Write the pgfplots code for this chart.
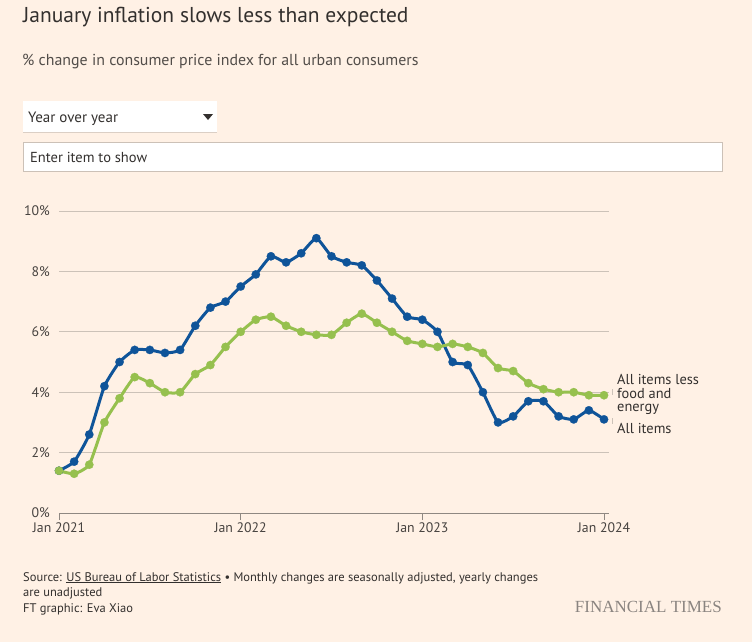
\documentclass[border=0pt]{standalone}
\usepackage{pgfplots}
\pgfplotsset{compat=1.18}
\usepackage{fontspec}
\setmainfont{PT Sans}
\newfontfamily\ftserif{Liberation Serif}
\definecolor{bg}{HTML}{FFF1E5}
\definecolor{txt}{HTML}{33302E}
\definecolor{ftblue}{HTML}{0F5499}
\definecolor{ftgreen}{HTML}{96C04E}
\definecolor{gridc}{HTML}{CCC2B8}
\definecolor{basec}{HTML}{8F8882}
\definecolor{boxline}{HTML}{CCC1B7}
\definecolor{ftgrey}{HTML}{8A8480}

\pgfplotstableread{
m all core
0 1.4 1.4
1 1.7 1.3
2 2.6 1.6
3 4.2 3.0
4 5.0 3.8
5 5.4 4.5
6 5.4 4.3
7 5.3 4.0
8 5.4 4.0
9 6.2 4.6
10 6.8 4.9
11 7.0 5.5
12 7.5 6.0
13 7.9 6.4
14 8.5 6.5
15 8.3 6.2
16 8.6 6.0
17 9.1 5.9
18 8.5 5.9
19 8.3 6.3
20 8.2 6.6
21 7.7 6.3
22 7.1 6.0
23 6.5 5.7
24 6.4 5.6
25 6.0 5.5
26 5.0 5.6
27 4.9 5.5
28 4.0 5.3
29 3.0 4.8
30 3.2 4.7
31 3.7 4.3
32 3.7 4.1
33 3.2 4.0
34 3.1 4.0
35 3.4 3.9
36 3.1 3.9
}\cpidata

\begin{document}
\begin{tikzpicture}[x=1pt,y=1pt]
\useasboundingbox (0,0) rectangle (752,-642);
\fill[bg] (0,0) rectangle (752,-642);
% titles
\node[anchor=base west, inner sep=0, text=txt, font=\fontsize{21.5}{24}\selectfont] at (23,-23) {January inflation slows less than expected};
\node[anchor=base west, inner sep=0, text=txt!85!bg, font=\fontsize{15.9}{18}\selectfont] at (22,-66) {\% change in consumer price index for all urban consumers};
% controls
\fill[white] (23,-101) rectangle (217,-132);
\draw[boxline!70!bg] (23,-132) -- (217,-132);
\node[anchor=base west, inner sep=0, text=txt, font=\fontsize{15}{17}\selectfont] at (28,-122) {Year over year};
\fill[txt] (203,-114) -- (213,-114) -- (208,-120) -- cycle;
\filldraw[fill=white, draw=boxline] (23,-142) rectangle (722,-171);
\node[anchor=base west, inner sep=0, text=txt, font=\fontsize{14.5}{17}\selectfont] at (30,-162) {Enter item to show};

\begin{axis}[
  at={(59pt,-513pt)}, anchor=south west,
  scale only axis, width=550pt, height=302pt,
  xmin=0, xmax=36.33, ymin=0, ymax=10,
  clip=false,
  axis line style={draw=none},
  xtick={0,12,24,36},
  xticklabels={Jan 2021,Jan 2022,Jan 2023,Jan 2024},
  xtick pos=bottom,
  ytick={2,4,6,8,10},
  extra y ticks={0},
  extra y tick style={ymajorgrids=false},
  yticklabel={\pgfmathprintnumber{\tick}\%},
  ymajorgrids,
  major grid style={draw=gridc, line width=0.9pt},
  tick align=outside,
  major tick length=7pt,
  xtick style={draw=basec, line width=0.9pt},
  ytick style={draw=none},
  /pgf/number format/assume math mode=true,
  ticklabel style={font=\fontsize{13.8}{15}\selectfont, text=txt!90!bg},
  yticklabel style={anchor=east, inner sep=0pt, xshift=-2pt},
  xticklabel style={inner sep=0pt, anchor=north, yshift=-2pt},
]
\draw[basec, line width=0.9pt] (axis cs:0,0) -- (axis cs:36.33,0);
\addplot[ftblue, line width=3pt, smooth, tension=0.3, line join=round, no marks] table[x=m, y=all] {\cpidata};
\addplot[ftblue, only marks, mark=*, mark size=4.2pt, mark options={fill=ftblue, draw=ftblue, line width=0.2pt}] table[x=m, y=all] {\cpidata};
\addplot[ftgreen, line width=3pt, smooth, tension=0.3, line join=round, no marks] table[x=m, y=core] {\cpidata};
\addplot[ftgreen, only marks, mark=*, mark size=4.2pt, mark options={fill=ftgreen, draw=ftgreen, line width=0.2pt}] table[x=m, y=core] {\cpidata};
\end{axis}

% end labels
\draw[gridc, line width=0.8pt] (612,-389) -- (612,-395);
\draw[gridc, line width=0.8pt] (612,-418) -- (612,-424);
\node[anchor=base west, inner sep=0, text=txt, font=\fontsize{14.4}{14.4}\selectfont] at (617,-384) {All items less};
\node[anchor=base west, inner sep=0, text=txt, font=\fontsize{14.4}{14.4}\selectfont] at (617,-398) {food and};
\node[anchor=base west, inner sep=0, text=txt, font=\fontsize{14.4}{14.4}\selectfont] at (617,-411) {energy};
\node[anchor=base west, inner sep=0, text=txt, font=\fontsize{14.4}{14.4}\selectfont] at (617,-433) {All items};

% footer
\node[anchor=base west, inner sep=0, text=txt, font=\fontsize{12.5}{14}\selectfont] at (23,-581) {Source: \underline{US Bureau of Labor Statistics} \textbullet\ Monthly changes are seasonally adjusted, yearly changes};
\node[anchor=base west, inner sep=0, text=txt, font=\fontsize{12.5}{14}\selectfont] at (23,-596) {are unadjusted};
\node[anchor=base west, inner sep=0, text=txt, font=\fontsize{12.5}{14}\selectfont] at (23,-612) {FT graphic: Eva Xiao};
\node[anchor=base east, inner sep=0, text=ftgrey, font=\ftserif\fontsize{17}{19}\selectfont] at (722,-612) {FINANCIAL TIMES};
\end{tikzpicture}
\end{document}
